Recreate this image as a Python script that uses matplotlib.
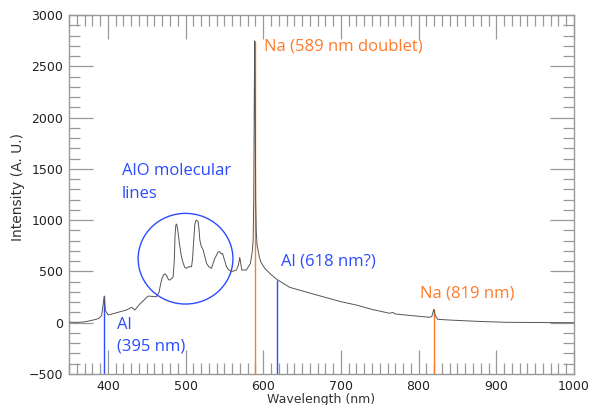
import numpy as np
import matplotlib.pyplot as plt
from matplotlib.patches import Ellipse
from matplotlib.ticker import MultipleLocator

# spectrum (nm, intensity)
wavelength = [350, 360, 370, 381, 388, 392, 393.8, 395.4, 396.8, 400.5, 410, 424, 430.6, 434.8,
              441, 452, 462.7, 466, 468, 470, 472, 474, 476, 478, 480, 482, 484,
              485.5, 486.5, 487.5, 488.5, 489.5, 490.5, 492, 493.5, 494.8, 497, 499, 501,
              504, 507.7, 509, 510.5, 512, 513.5, 515, 516.3, 517.5, 518.4, 520, 522.7,
              525, 527, 530, 533.4, 535.5, 537.7, 540, 542, 544, 546, 547.6, 549, 551,
              552.7, 555, 559, 565.5, 568, 569.8, 572.4, 578.4, 583.5, 586, 587, 587.8,
              588.5, 589, 589.6, 590.3, 591, 592, 593.3, 595, 597, 602, 610, 618, 634,
              655, 677, 700, 720, 740, 762.6, 767, 770, 790, 814, 817, 819.5, 821.5,
              824.7, 840, 857, 880, 912.6, 950, 1000]
intensity = [5, 3, 8, 26, 40, 70, 170, 260, 120, 75, 95, 124, 150, 124,
             182, 260, 253, 300, 380, 440, 470, 475, 455, 420, 416, 430, 448,
             600, 850, 950, 962, 930, 871, 780, 700, 643, 580, 540, 530,
             545, 546, 620, 800, 960, 1000, 995, 985, 900, 806, 750, 709,
             640, 579, 545, 530, 580, 628, 660, 690, 692, 670, 676, 640, 590,
             546, 520, 497, 514, 560, 637, 514, 514, 579, 700, 806, 1200,
             2200, 2748, 2200, 1200, 900, 760, 709, 640, 590, 530, 470, 420, 345,
             300, 253, 205, 172, 130, 92, 100, 85, 70, 53, 60, 130, 70,
             33, 26, 20, 12, 4, 2, 0]

al_lines = [395.4, 618]
al_tops = [260, 420]
na_lines = [589, 819.5]
na_tops = [2748, 130]

blue = '#2b4cff'
orange = '#ff7b2a'
grey = '#999999'

fig = plt.figure(figsize=(5.91, 4.05), dpi=100)
ax = fig.add_axes([69/591, 1-374/405, 505/591, 359/405])

ax.plot(wavelength, intensity, color='#555555', lw=0.7, zorder=3)
ax.vlines(al_lines, -500, al_tops, color=blue, lw=1.0, zorder=2)
ax.vlines(na_lines, -500, na_tops, color=orange, lw=1.0, zorder=2)

ax.add_patch(Ellipse((500, 624), 122, 884, fill=False, ec=blue, lw=1.0))

tf = dict(family=['Open Sans', 'DejaVu Sans'], fontsize=12)
ax.text(600.6, 2690, 'Na (589 nm doublet)', color=orange, va='center', **tf)
ax.text(417.7, 1481, 'AlO molecular', color=blue, va='center', **tf)
ax.text(417.7, 1250, 'lines', color=blue, va='center', **tf)
ax.text(411.3, -20, 'Al', color=blue, va='center', **tf)
ax.text(411.3, -230, '(395 nm)', color=blue, va='center', **tf)
ax.text(623.4, 595, 'Al (618 nm?)', color=blue, va='center', **tf)
ax.text(802, 287, 'Na (819 nm)', color=orange, va='center', **tf)

ax.set_xlim(350, 1000)
ax.set_ylim(-500, 3000)
ax.xaxis.set_major_locator(MultipleLocator(100))
ax.xaxis.set_minor_locator(MultipleLocator(10))
ax.yaxis.set_major_locator(MultipleLocator(500))
ax.yaxis.set_minor_locator(MultipleLocator(100))
ax.tick_params(which='both', direction='in', top=True, right=True, color=grey,
               labelsize=9, labelcolor='#222222')
ax.tick_params(which='major', length=17, width=0.9, pad=4)
ax.tick_params(which='minor', length=8, width=0.9)
for s in ax.spines.values():
    s.set_color(grey)
    s.set_linewidth(1.0)

ax.set_xlabel('Wavelength (nm)', fontsize=9, color='#333333', labelpad=0)
ax.set_ylabel('Intensity (A. U.)', fontsize=10, color='#333333')
ax.yaxis.set_label_coords(-0.088, 0.52)

fig.savefig('out.png', dpi=100)
